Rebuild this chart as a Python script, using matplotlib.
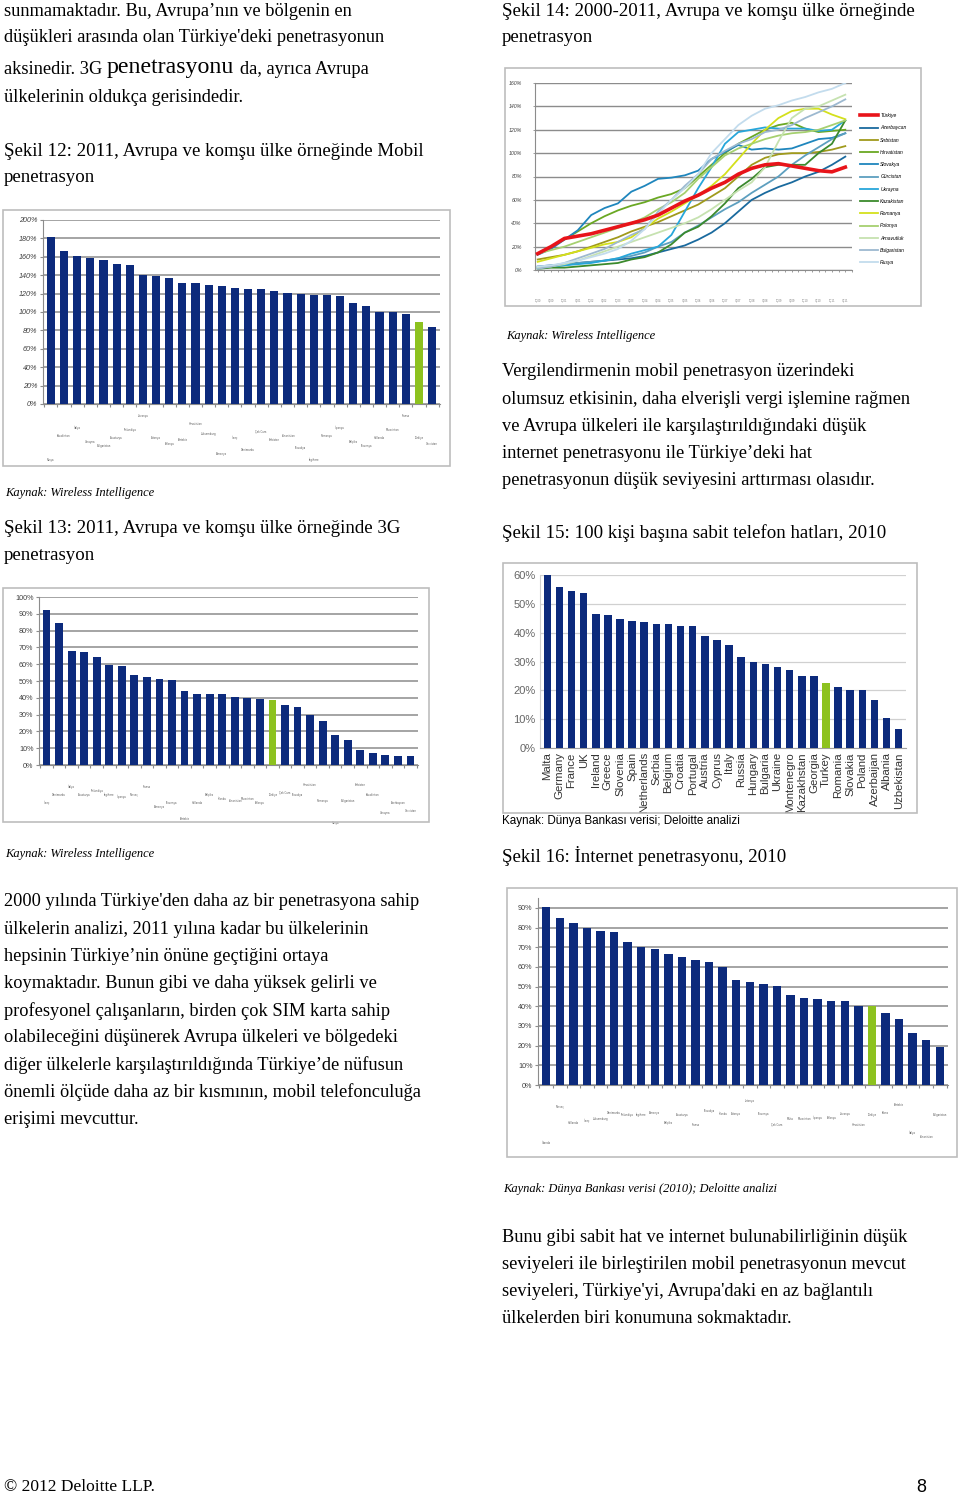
import numpy as np
import matplotlib
matplotlib.use("Agg")
import matplotlib.pyplot as plt
from matplotlib.patches import Rectangle

W, H = 960, 1496
NAVY = '#0c2a7c'
LIME = '#8dc21f'
SERIF = 'Liberation Serif'
SANS = 'Liberation Sans'

# ---- Şekil 12: mobil penetrasyon 2011 (%)
mob_names = ['Rusya', 'Kazakistan', 'İtalya', 'Ukrayna', 'Bulgaristan', 'Avusturya',
             'Finlandiya', 'Litvanya', 'Estonya', 'Polonya', 'Portekiz', 'Hırvatistan',
             'Lüksemburg', 'Almanya', 'İsveç', 'Danimarka', 'Çek Cum.', 'Sırbistan',
             'Yunanistan', 'Slovakya', 'İngiltere', 'Romanya', 'İspanya', 'Belçika',
             'Slovenya', 'Hollanda', 'Macaristan', 'Fransa', 'Türkiye', 'Gürcistan']
mob_vals = [182, 166, 161, 159, 157, 152, 151, 140, 139.5, 136.5, 131, 131, 129, 128,
            126.5, 125, 124.5, 123, 120.5, 120, 118.5, 118, 117, 110, 107, 100.5,
            100, 98, 89, 84]

# ---- Şekil 13: 3G penetrasyon 2011 (%)
g3_names = ['İsveç', 'Danimarka', 'İtalya', 'Avusturya', 'Finlandiya', 'İngiltere',
            'İspanya', 'Norveç', 'Fransa', 'Almanya', 'Slovenya', 'Portekiz',
            'Hollanda', 'Belçika', 'İrlanda', 'Yunanistan', 'Macaristan', 'Polonya',
            'Türkiye', 'Çek Cum.', 'Slovakya', 'Hırvatistan', 'Romanya', 'Rusya',
            'Bulgaristan', 'Sırbistan', 'Kazakistan', 'Ukrayna', 'Azerbaycan', 'Gürcistan']
g3_vals = [92, 84.5, 68, 67, 64, 59.5, 59, 53.5, 52.5, 51, 50.5, 44, 42.5, 42.5,
           42, 40.5, 40, 39.5, 38.5, 36, 34.5, 30, 26, 18, 15, 9, 7, 6, 5.5, 5.5]

# ---- Şekil 14: 2000-2011 mobil penetrasyon (%)
periods = ['1Ç00', '3Ç00', '1Ç01', '3Ç01', '1Ç02', '3Ç02', '1Ç03', '3Ç03', '1Ç04', '3Ç04',
           '1Ç05', '3Ç05', '1Ç06', '3Ç06', '1Ç07', '3Ç07', '1Ç08', '3Ç08', '1Ç09', '3Ç09',
           '1Ç10', '3Ç10', '1Ç11', '3Ç11']
turkiye = [14, 20, 27, 29, 31, 34, 37, 40, 43, 47, 53, 59, 64, 70, 75, 82, 87, 90, 91, 89, 87, 85, 84, 88]
azerbaycan = [3, 4, 5, 6, 7, 8, 9, 10, 12, 15, 18, 21, 26, 32, 40, 50, 60, 66, 71, 75, 80, 84, 90, 97]
sirbistan = [9, 11, 13, 16, 20, 24, 28, 33, 37, 41, 46, 51, 56, 63, 70, 80, 90, 96, 99, 100, 100, 101, 103, 106]
hirvatistan = [14, 20, 26, 33, 40, 46, 51, 55, 58, 62, 65, 70, 80, 90, 100, 108, 114, 120, 124, 126, 121, 118, 119, 120]
slovakya = [13, 18, 26, 34, 47, 53, 57, 67, 72, 78, 79, 81, 85, 95, 101, 107, 103, 104, 103, 104, 108, 112, 113, 117]
gurcistan = [2, 3, 4, 6, 7, 8, 10, 12, 15, 20, 24, 32, 38, 45, 52, 58, 66, 73, 80, 90, 98, 105, 112, 117]
ukrayna = [2, 3, 4, 5, 6, 8, 10, 14, 17, 20, 30, 50, 70, 88, 108, 118, 120, 122, 121, 121, 121, 119, 120, 128]
kazakistan = [1, 2, 2, 3, 4, 5, 6, 9, 11, 15, 22, 32, 37, 46, 57, 70, 78, 88, 90, 90, 90, 100, 108, 128]
romanya = [7, 10, 13, 16, 19, 22, 24, 28, 36, 44, 50, 57, 64, 72, 82, 95, 108, 120, 130, 136, 138, 138, 133, 129]
polonya = [14, 17, 20, 24, 28, 32, 36, 40, 45, 52, 58, 66, 78, 88, 98, 104, 108, 112, 115, 117, 118, 120, 124, 128]
arnavutluk = [2, 3, 5, 8, 12, 16, 20, 24, 28, 32, 36, 40, 45, 52, 60, 68, 75, 88, 110, 130, 138, 140, 145, 150]
bulgaristan = [1, 3, 6, 10, 14, 18, 24, 30, 35, 50, 60, 72, 82, 95, 102, 108, 112, 118, 120, 124, 130, 135, 140, 146]
rusya = [3, 4, 6, 8, 11, 14, 18, 25, 35, 48, 60, 70, 82, 100, 112, 124, 132, 138, 141, 145, 148, 152, 155, 160]
line_names = ['Türkiye', 'Azerbaycan', 'Sırbistan', 'Hırvatistan', 'Slovakya', 'Gürcistan',
              'Ukrayna', 'Kazakistan', 'Romanya', 'Polonya', 'Arnavutluk', 'Bulgaristan', 'Rusya']
line_data = [turkiye, azerbaycan, sirbistan, hirvatistan, slovakya, gurcistan, ukrayna,
             kazakistan, romanya, polonya, arnavutluk, bulgaristan, rusya]
line_colors = ['#e8141a', '#1a6a9e', '#a09a1c', '#6aa823', '#1f86bd', '#5d9fbf',
               '#27a6da', '#3b8a2c', '#d4e01c', '#a6d070', '#c6e2b0', '#9db9d0', '#c3dced']

# ---- Şekil 15: 100 kişi başına sabit hat, 2010 (%)
fix_names = ['Malta', 'Germany', 'France', 'UK', 'Ireland', 'Greece', 'Slovenia', 'Spain',
             'Netherlands', 'Serbia', 'Belgium', 'Croatia', 'Portugal', 'Austria', 'Cyprus',
             'Italy', 'Russia', 'Hungary', 'Bulgaria', 'Ukraine', 'Montenegro', 'Kazakhstan',
             'Georgia', 'Turkey', 'Romania', 'Slovakia', 'Poland', 'Azerbaijan', 'Albania',
             'Uzbekistan']
fix_vals = [60, 56, 54.6, 53.9, 46.6, 46, 44.7, 44.2, 43.8, 42.9, 42.9, 42.3, 42.3, 38.8,
            37.6, 35.6, 31.6, 29.8, 29.3, 28.2, 26.9, 24.9, 24.9, 22.4, 21, 20.2, 20.2,
            16.7, 10.4, 6.7]

# ---- Şekil 16: internet penetrasyonu, 2010 (%)
net_names = ['İzlanda', 'Norveç', 'Hollanda', 'İsveç', 'Lüksemburg', 'Danimarka',
             'Finlandiya', 'İngiltere', 'Almanya', 'Belçika', 'Avusturya', 'Fransa',
             'Slovakya', 'İrlanda', 'Estonya', 'Letonya', 'Slovenya', 'Çek Cum.', 'Malta',
             'Macaristan', 'İspanya', 'Polonya', 'Litvanya', 'Hırvatistan', 'Türkiye',
             'Kıbrıs', 'Portekiz', 'İtalya', 'Yunanistan', 'Bulgaristan']
net_vals = [90.5, 85, 82.5, 80, 78, 77.5, 72.5, 70, 69, 66.5, 65, 63.5, 62.5, 60, 53.5,
            52.3, 51.5, 50.5, 45.5, 44.3, 43.8, 42.5, 42.5, 40, 40, 36.4, 33.5, 26.2,
            22.7, 19.5]

fig = plt.figure(figsize=(W / 100, H / 100), dpi=100)


def ptext(x, y, s, size=13.2, family=SERIF, **kw):
    kw.setdefault('va', 'center')
    fig.text(x / W, 1 - y / H, s, fontsize=size, family=family, **kw)


def box(x0, y0, x1, y1):
    fig.patches.append(Rectangle((x0 / W, 1 - y1 / H), (x1 - x0) / W, (y1 - y0) / H,
                                 transform=fig.transFigure, fill=False,
                                 edgecolor='#bdbdbd', lw=1.2))


def axes_px(x0, y0, x1, y1):
    return fig.add_axes([x0 / W, 1 - y1 / H, (x1 - x0) / W, (y1 - y0) / H])


def bar_chart(ax, names, vals, green, ymax, step, italic, lab_offsets):
    x = np.arange(len(vals))
    colors = [LIME if i == green else NAVY for i in range(len(vals))]
    ax.bar(x, vals, width=0.62, color=colors, zorder=3)
    ax.set_xlim(-0.6, len(vals) - 0.4)
    ax.set_ylim(0, ymax)
    ticks = np.arange(0, ymax + 0.1, step)
    ticks = ticks[ticks <= ymax]
    ax.set_yticks(ticks)
    ax.set_yticklabels(['%d%%' % t for t in ticks], fontsize=5.2, color='#404040',
                       style='italic' if italic else 'normal', family=SANS)
    ax.yaxis.grid(True, color='#8c8c8c', lw=1.1, zorder=0)
    ax.set_xticks(np.arange(len(vals) + 1) - 0.5)
    ax.set_xticklabels([])
    ax.tick_params(axis='x', length=2, color='#8c8c8c', width=0.8)
    ax.tick_params(axis='y', length=2, color='#8c8c8c', width=0.8, pad=2)
    for s in ['top', 'right']:
        ax.spines[s].set_visible(False)
    for s in ['left', 'bottom']:
        ax.spines[s].set_color('#8c8c8c')
    for i, n in enumerate(names):
        ax.annotate(n, (i, 0), xycoords='data', xytext=(0, -lab_offsets[i % len(lab_offsets)]),
                    textcoords='offset pixels', ha='center', va='center',
                    fontsize=1.8, color='#555555', annotation_clip=False)


# ================= LEFT COLUMN =================
ptext(4, 11, "sunmamaktadır. Bu, Avrupa’nın ve bölgenin en")
ptext(4, 38, "düşükleri arasında olan Türkiye'deki penetrasyonun")
ptext(4, 69, "aksinedir. 3G ")
ptext(107, 68, "penetrasyonu", size=17.2)
ptext(240, 69, "da, ayrıca Avrupa")
ptext(4, 98, "ülkelerinin oldukça gerisindedir.")

ptext(4, 151, "Şekil 12: 2011, Avrupa ve komşu ülke örneğinde Mobil", size=13.6)
ptext(4, 178, "penetrasyon", size=13.6)

box(3, 210, 450, 466)
ax12 = axes_px(43, 220, 440, 404)
offs12 = [56, 32, 24, 38, 42, 34, 26, 12, 34, 40, 36, 20, 30, 50, 34, 46, 28, 36, 32, 44]
bar_chart(ax12, mob_names, mob_vals, 28, 200, 20, True, offs12)
ptext(5, 493, "Kaynak: Wireless Intelligence", size=9, style='italic')

ptext(4, 528, "Şekil 13: 2011, Avrupa ve komşu ülke örneğinde 3G", size=13.6)
ptext(4, 556, "penetrasyon", size=13.6)

box(3, 588, 429, 822)
ax13 = axes_px(39, 597, 418, 765)
offs13 = [38, 30, 22, 30, 26, 30, 32, 30, 22, 42, 38, 54, 38, 30, 34, 36, 34, 38, 30, 28, 30, 20, 36, 58, 36, 20, 30, 48, 38, 46]
bar_chart(ax13, g3_names, g3_vals, 18, 100, 10, False, offs13)
ptext(5, 854, "Kaynak: Wireless Intelligence", size=9, style='italic')

para1 = ["2000 yılında Türkiye'den daha az bir penetrasyona sahip",
         "ülkelerin analizi, 2011 yılına kadar bu ülkelerinin",
         "hepsinin Türkiye’nin önüne geçtiğini ortaya",
         "koymaktadır. Bunun gibi ve daha yüksek gelirli ve",
         "profesyonel çalışanların, birden çok SIM karta sahip",
         "olabileceğini düşünerek Avrupa ülkeleri ve bölgedeki",
         "diğer ülkelerle karşılaştırıldığında Türkiye’de nüfusun",
         "önemli ölçüde daha az bir kısmının, mobil telefonculuğa",
         "erişimi mevcuttur."]
for k, line in enumerate(para1):
    ptext(4, 902 + k * 27.2, line)

ptext(4, 1487, "© 2012 Deloitte LLP.", size=12.5)
ptext(916, 1487, "8", size=13, family=SANS)

# ================= RIGHT COLUMN =================
ptext(502, 11, "Şekil 14: 2000-2011, Avrupa ve komşu ülke örneğinde", size=13.6)
ptext(502, 38, "penetrasyon", size=13.6)

box(505, 68, 921, 306)
ax14 = axes_px(535, 83, 852, 270)
xs = np.arange(len(periods))
for name, data, col in zip(line_names, line_data, line_colors):
    lw = 2.6 if name == 'Türkiye' else 1.3
    ax14.plot(xs, data, color=col, lw=lw, label=name, zorder=4 if name == 'Türkiye' else 3)
ax14.set_ylim(0, 160)
ax14.set_xlim(-0.2, len(periods) - 0.8)
ax14.set_yticks(np.arange(0, 161, 20))
ax14.set_yticklabels(['%d%%' % t for t in range(0, 161, 20)], fontsize=3.8,
                     style='italic', color='#404040', family=SANS)
ax14.yaxis.grid(True, color='#8c8c8c', lw=1.0, zorder=0)
ax14.set_xticks(np.arange(0, len(periods), 0.5))
ax14.set_xticklabels([])
ax14.tick_params(axis='x', length=1.5, color='#8c8c8c', width=0.6)
ax14.tick_params(axis='y', length=1.5, color='#8c8c8c', width=0.6, pad=8)
for s in ['top', 'right']:
    ax14.spines[s].set_visible(False)
for s in ['left', 'bottom']:
    ax14.spines[s].set_color('#8c8c8c')
for i, p in enumerate(periods):
    ax14.annotate(p, (i, 0), xytext=(0, -31), textcoords='offset pixels', ha='center',
                  va='center', fontsize=1.8, color='#777777', annotation_clip=False)
leg = ax14.legend(loc='upper left', bbox_to_anchor=(1.02, 0.85), frameon=False,
                  fontsize=3.6, labelspacing=1.45, handlelength=3.6, handletextpad=0.4,
                  borderaxespad=0)
for t in leg.get_texts():
    t.set_style('italic')
    t.set_family(SANS)
ptext(506, 336, "Kaynak: Wireless Intelligence", size=9, style='italic')

para2 = ["Vergilendirmenin mobil penetrasyon üzerindeki",
         "olumsuz etkisinin, daha elverişli vergi işlemine rağmen",
         "ve Avrupa ülkeleri ile karşılaştırıldığındaki düşük",
         "internet penetrasyonu ile Türkiye’deki hat",
         "penetrasyonun düşük seviyesini arttırması olasıdır."]
for k, line in enumerate(para2):
    ptext(502, 372 + k * 27.2, line)

ptext(502, 533, "Şekil 15: 100 kişi başına sabit telefon hatları, 2010", size=13.6)

box(503, 563, 917, 813)
ax15 = axes_px(540, 575, 906, 748)
x15 = np.arange(len(fix_vals))
ax15.bar(x15, fix_vals, width=0.62,
         color=[LIME if n == 'Turkey' else NAVY for n in fix_names], zorder=3)
ax15.set_xlim(-0.6, len(fix_vals) - 0.4)
ax15.set_ylim(0, 60)
ax15.set_yticks(np.arange(0, 61, 10))
ax15.set_yticklabels(['%d%%' % t for t in range(0, 61, 10)], fontsize=8,
                     color='#666666', family=SANS)
ax15.yaxis.grid(True, color='#d0d0d0', lw=0.9, zorder=0)
ax15.set_xticks(x15)
ax15.set_xticklabels(fix_names, rotation=90, fontsize=8.2, color='#333333', family=SANS)
ax15.tick_params(axis='both', length=0, pad=3)
for s in ['top', 'right']:
    ax15.spines[s].set_visible(False)
ax15.spines['left'].set_color('#d0d0d0')
ax15.spines['bottom'].set_color('#a0a0a0')
ptext(502, 821, "Kaynak: Dünya Bankası verisi; Deloitte analizi", size=8.4, family=SANS)

ptext(502, 856, "Şekil 16: İnternet penetrasyonu, 2010", size=13.6)

box(507, 888, 957, 1157)
ax16 = axes_px(538, 898, 948, 1085)
offs16 = [58, 22, 38, 36, 34, 28, 30, 30, 28, 38, 30, 40, 26, 29, 29, 16, 29, 40, 34, 34,
          33, 33, 29, 40, 30, 28, 20, 48, 52, 30]
bar_chart(ax16, net_names, net_vals, 24, 95, 10, False, offs16)
ax16.set_yticks(np.arange(0, 91, 10))
ax16.set_yticklabels(['%d%%' % t for t in range(0, 91, 10)], fontsize=5.2,
                     color='#404040', family=SANS)
ptext(503, 1189, "Kaynak: Dünya Bankası verisi (2010); Deloitte analizi", size=9, style='italic')

para3 = ["Bunu gibi sabit hat ve internet bulunabilirliğinin düşük",
         "seviyeleri ile birleştirilen mobil penetrasyonun mevcut",
         "seviyeleri, Türkiye'yi, Avrupa'daki en az bağlantılı",
         "ülkelerden biri konumuna sokmaktadır."]
for k, line in enumerate(para3):
    ptext(502, 1237 + k * 27.3, line)

fig.savefig('out.png', dpi=100)
